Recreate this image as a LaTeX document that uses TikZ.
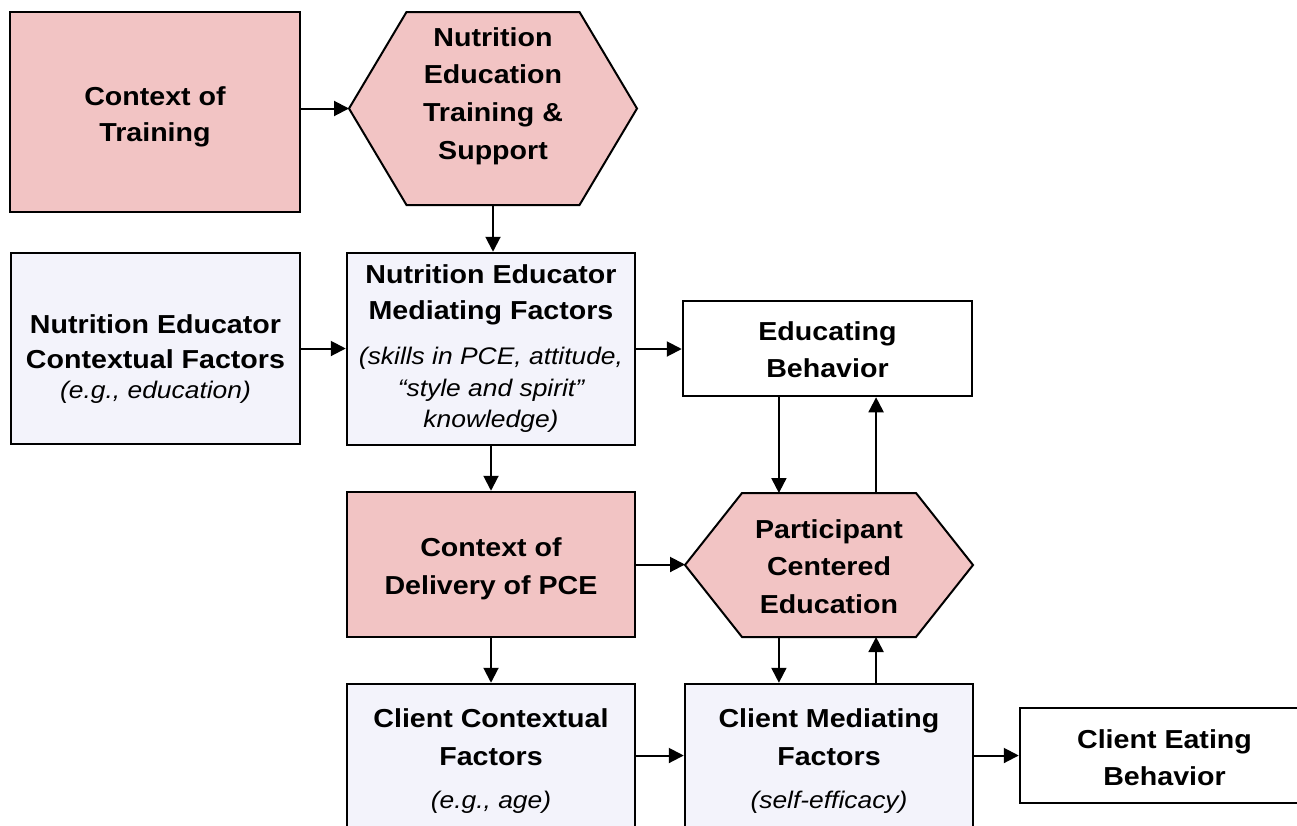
\documentclass[tikz,border=0pt]{standalone}
\usepackage{fontspec}
\setmainfont{Liberation Sans}[FakeStretch=1.1]
\usetikzlibrary{arrows.meta,backgrounds,calc}
\definecolor{pinkfill}{RGB}{242,196,196}
\definecolor{lavfill}{RGB}{243,243,251}
\newcommand\bt{\fontsize{26pt}{30pt}\selectfont\bfseries}
\newcommand\itx{\fontsize{24pt}{30pt}\selectfont\mdseries\itshape}
\newcommand\txtlines[2]{\raisebox{#1pt}[0pt][0pt]{\vtop{\bt\baselineskip=0pt\lineskip=0pt\lineskiplimit=-1000pt\halign{\hfil##\hfil\cr#2\crcr}}}}
\newcommand\gap[1]{\noalign{\vskip#1pt}}
\tikzset{
  box/.style={draw=black, line width=2.5pt, rectangle, inner sep=0pt},
  pinkbox/.style={box, fill=pinkfill},
  lavbox/.style={box, fill=lavfill},
  whitebox/.style={box, fill=white},
  hexnode/.style={rectangle, inner sep=0pt, outer sep=0pt},
  hexline/.style={draw=black, line width=2pt, fill=pinkfill, line join=miter},
  arr/.style={line width=2pt, -{Triangle[length=15pt,width=15pt]}},
}
\begin{document}
\begin{tikzpicture}[x=1pt,y=-1pt]
\useasboundingbox (0,0) rectangle (1297,825);
\clip (0,0) rectangle (1297,825);
% row 1
\node[pinkbox, minimum width=290pt, minimum height=200pt] (cot) at (155,112)
  {\txtlines{7}{Context of\cr\gap{36}Training}};
\node[hexnode, minimum width=288pt, minimum height=193pt] (h1) at (493,108.5)
  {\txtlines{62.5}{Nutrition\cr\gap{37.7}Education\cr\gap{37.7}Training \&\cr\gap{37.7}Support}};
% row 2
\node[lavbox, minimum width=289pt, minimum height=191pt] (nec) at (155.5,348.5)
  {\txtlines{15.5}{Nutrition Educator\cr\gap{35}Contextual Factors\cr\gap{30}{\itx (e.g., education)}}};
\node[lavbox, minimum width=288pt, minimum height=192pt] (nem) at (491,349)
  {\txtlines{66}{Nutrition Educator\cr\gap{36.5}Mediating Factors\cr\gap{45}{\itx (skills in PCE, attitude,}\cr\gap{31.5}{\itx “style and spirit”}\cr\gap{31.5}{\itx knowledge)}}};
\node[whitebox, minimum width=289pt, minimum height=95pt] (eb) at (827.5,348.5)
  {\txtlines{8.5}{Educating\cr\gap{37}Behavior}};
% row 3
\node[pinkbox, minimum width=288pt, minimum height=145pt] (cod) at (491,564.5)
  {\txtlines{7.8}{Context of\cr\gap{37.3}Delivery of PCE}};
\node[hexnode, minimum width=288pt, minimum height=144pt] (pce) at (829,565)
  {\txtlines{27}{Participant\cr\gap{37.5}Centered\cr\gap{37.5}Education}};
% row 4
\node[lavbox, minimum width=288pt, minimum height=161pt] (cc) at (491,764.5)
  {\txtlines{37.2}{Client Contextual\cr\gap{37.7}Factors\cr\gap{43.3}{\itx (e.g., age)}}};
\node[lavbox, minimum width=288pt, minimum height=161pt] (cm) at (829,764.5)
  {\txtlines{37.2}{Client Mediating\cr\gap{37.7}Factors\cr\gap{43.3}{\itx (self-efficacy)}}};
\node[whitebox, minimum width=289pt, minimum height=95pt] (ce) at (1164.5,755.5)
  {\txtlines{7.2}{Client Eating\cr\gap{36.7}Behavior}};
% hexagons behind their text
\begin{scope}[on background layer]
\fill[white] (0,0) rectangle (1297,825);
\path[hexline] (h1.west) -- ([xshift=57.5pt]h1.north west) -- ([xshift=-57.5pt]h1.north east)
  -- (h1.east) -- ([xshift=-57.5pt]h1.south east) -- ([xshift=57.5pt]h1.south west) -- cycle;
\path[hexline] (pce.west) -- ([xshift=57pt]pce.north west) -- ([xshift=-57pt]pce.north east)
  -- (pce.east) -- ([xshift=-57pt]pce.south east) -- ([xshift=57pt]pce.south west) -- cycle;
\end{scope}
% connectors
\coordinate (d1) at ($(eb.south west)!1/3!(eb.south east)$);
\coordinate (u1) at ($(eb.south west)!2/3!(eb.south east)$);
\draw[arr] (h1.west -| cot.east) -- (h1.west);
\draw[arr] (h1.south) -- (h1.south |- nem.north);
\draw[arr] (nec.east) -- (nec.east -| nem.west);
\draw[arr] (nem.east) -- (nem.east -| eb.west);
\draw[arr] (nem.south) -- (cod.north);
\draw[arr] (d1) -- (d1 |- pce.north);
\draw[arr] (u1 |- pce.north) -- (u1);
\draw[arr] (cod.east) -- (cod.east -| pce.west);
\draw[arr] (cod.south) -- (cc.north);
\draw[arr] (d1 |- pce.south) -- (d1 |- cm.north);
\draw[arr] (u1 |- cm.north) -- (u1 |- pce.south);
\draw[arr] (ce.west -| cc.east) -- (ce.west -| cm.west);
\draw[arr] (ce.west -| cm.east) -- (ce.west);
\end{tikzpicture}
\end{document}
